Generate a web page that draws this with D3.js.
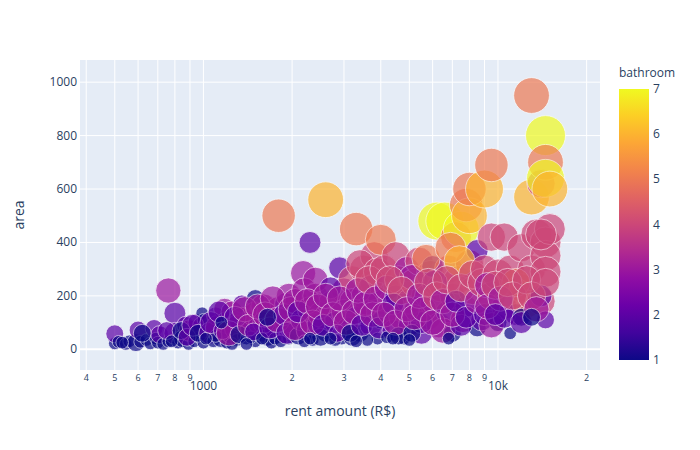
<!DOCTYPE html>
<html lang="en">
<head>
<meta charset="UTF-8">
<title>rent vs area</title>
<style>
  body { margin: 0; background: #fff; }
  svg { font-family: "Open Sans", verdana, arial, sans-serif; }
</style>
</head>
<body>
<svg width="700" height="450"></svg>
<script src="https://d3js.org/d3.v7.min.js"></script>
<script>
// values
const rent = [
  500, 500, 515, 545, 560, 590, 600, 610, 640, 660, 680, 690, 700, 710, 730, 760, 760, 800, 800, 820,
  850, 870, 890, 900, 930, 950, 970, 990, 1000, 1000, 1000,
  530, 620, 750, 780, 840, 880, 920, 960,
  1050, 1080, 1100, 1120, 1150, 1180, 1200, 1200, 1250, 1250, 1300, 1300, 1350, 1350, 1400, 1450, 1500, 1500, 1500, 1550,
  1600, 1600, 1650, 1700, 1700, 1750, 1800, 1800, 1850, 1900, 1900, 1950, 2000, 2000, 1100, 1250, 1450, 1600, 1750, 1950,
  1020, 1060, 1130, 1160, 1220, 1280, 1320, 1380, 1420, 1480, 1530, 1580, 1620, 1680, 1720, 1780, 1830, 1880, 1920, 1980,
  1150, 1400, 1650,
  2050, 2180, 2300, 2100, 2150, 2200, 2250, 2300, 2350, 2400, 2450, 2500, 2600, 2600, 2700, 2800, 2900, 2950, 3000, 3000,
  3100, 3200, 3200, 3300, 3300, 3400, 3500, 3500, 3600, 3700, 3800, 3800, 3900, 4000, 4000, 4000, 2200, 2500, 2800, 3200,
  3600, 2400, 2700, 3400, 3700, 3900,
  2050, 2100, 2250, 2350, 2450, 2550, 2600, 2750, 2850, 2900, 3050, 3150, 3250, 3350, 3450, 3550, 3650, 3750, 3850, 3950,
  2300, 2700, 3300,
  4100, 4200, 4300, 4400, 4500, 4500, 4600, 4700, 4800, 4900, 5000, 5000, 5200, 5300, 5400, 5500, 5600, 5800, 5900, 6000,
  6000, 6200, 6300, 6400, 6600, 6700, 6800, 7000, 7000, 7200, 7300, 7500, 7600, 7800, 7800, 8000, 8000, 8000, 8200, 8500,
  8500, 4200, 4600, 5500, 6500, 7500, 8800, 4400, 5100, 5700, 6900, 7400, 6100,
  4100, 4300, 4500, 4700, 4900, 5100, 5200, 5400, 5600, 5800, 6000, 6200, 6500, 6700, 7000, 7200, 7500, 7800, 8200, 8500,
  8800, 4400, 5000, 6800,
  9000, 9000, 9000, 9500, 9500, 9500, 10000, 10000, 10500, 10500, 11000, 11000, 11500, 12000, 12000, 12500, 13000, 13000, 13000, 13500,
  14000, 14000, 14500, 14500, 14500, 14500, 14500, 14500, 14500, 14000, 15000, 15000, 9500, 10500, 12000, 12000, 11500, 9200,
  9200, 9800, 10200, 10800, 11200, 12500, 13000, 13500, 14000, 14500, 9800, 13000
];
const area = [
  22, 58, 28, 20, 30, 25, 72, 28, 35, 22, 78, 40, 25, 55, 20, 30, 220, 135, 60, 25,
  40, 90, 20, 70, 30, 100, 45, 135, 25, 85, 110,
  25, 60, 70, 30, 70, 45, 90, 60,
  60, 30, 125, 80, 40, 150, 100, 25, 60, 140, 80, 35, 170, 110, 50, 75, 190, 130, 30, 95,
  60, 160, 45, 120, 25, 80, 150, 500, 55, 100, 170, 40, 130, 75, 50, 20, 45, 100, 40, 200,
  40, 100, 140, 70, 60, 120, 55, 150, 90, 65, 160, 40, 130, 80, 190, 110, 30, 130, 60, 150,
  100, 20, 120,
  180, 285, 400, 50, 110, 220, 70, 150, 35, 200, 95, 130, 560, 60, 170, 100, 305, 40, 220, 140,
  80, 260, 180, 450, 120, 60, 300, 200, 150, 90, 250, 350, 40, 410, 180, 110, 30, 45, 35, 45,
  35, 260, 230, 320, 230, 290,
  80, 140, 180, 100, 160, 90, 200, 130, 60, 190, 100, 60, 140, 220, 90, 170, 260, 130, 190, 80,
  40, 40, 30,
  300, 230, 140, 70, 350, 200, 260, 120, 40, 300, 180, 90, 250, 150, 330, 60, 200, 120, 280, 310,
  170, 480, 90, 230, 480, 140, 300, 200, 60, 420, 260, 450, 110, 160, 540, 500, 600, 320, 220, 80,
  370, 45, 50, 100, 70, 90, 110, 170, 270, 340, 380, 330, 250,
  130, 260, 100, 220, 150, 60, 120, 200, 150, 250, 100, 200, 180, 260, 130, 180, 230, 120, 280, 180,
  250, 40, 35, 40,
  600, 300, 130, 690, 420, 200, 280, 100, 420, 160, 60, 300, 130, 230, 380, 170, 950, 570, 300, 430,
  620, 180, 800, 700, 640, 400, 350, 290, 110, 200, 600, 450, 90, 120, 120, 100, 250, 240,
  160, 240, 190, 250, 200, 260, 200, 150, 430, 250, 130, 120
];
const bathroom = [
  1, 2, 1, 1, 1, 1, 2, 1, 1, 1, 2, 1, 1, 2, 1, 1, 3, 2, 2, 1,
  1, 2, 1, 3, 1, 2, 1, 1, 1, 2, 1,
  1, 1, 2, 1, 1, 2, 2, 1,
  2, 1, 2, 3, 1, 3, 2, 1, 2, 3, 3, 1, 2, 3, 1, 2, 1, 3, 1, 2,
  2, 3, 1, 3, 1, 2, 3, 5, 2, 3, 2, 1, 3, 2, 1, 1, 1, 2, 1, 3,
  1, 2, 2, 2, 3, 2, 1, 3, 3, 2, 3, 1, 3, 2, 3, 3, 1, 2, 2, 3,
  1, 1, 1,
  3, 3, 2, 1, 2, 3, 2, 3, 1, 3, 2, 3, 6, 1, 3, 2, 2, 1, 3, 3,
  2, 4, 3, 5, 2, 1, 4, 3, 3, 2, 4, 4, 1, 5, 3, 1, 1, 1, 1, 1,
  1, 3, 2, 4, 3, 4,
  3, 2, 3, 3, 3, 2, 3, 3, 2, 3, 3, 1, 3, 3, 2, 3, 4, 3, 3, 2,
  1, 1, 1,
  4, 3, 3, 2, 4, 2, 4, 3, 1, 3, 3, 2, 4, 3, 4, 2, 3, 3, 4, 2,
  3, 7, 3, 4, 7, 2, 4, 3, 1, 5, 4, 7, 3, 2, 5, 6, 5, 4, 4, 1,
  2, 1, 1, 2, 3, 2, 2, 2, 3, 5, 5, 6, 3,
  3, 4, 3, 4, 3, 1, 3, 3, 3, 4, 3, 4, 3, 4, 3, 2, 4, 2, 4, 3,
  4, 1, 1, 1,
  6, 4, 2, 5, 4, 4, 4, 1, 4, 3, 1, 4, 2, 4, 4, 5, 5, 6, 4, 4,
  4, 4, 7, 5, 7, 4, 4, 4, 2, 2, 6, 4, 3, 2, 1, 2, 5, 3,
  3, 4, 3, 4, 4, 4, 4, 3, 4, 4, 2, 1
];
const rooms = [
  1, 2, 1, 1, 1, 2, 2, 1, 1, 1, 2, 1, 1, 2, 1, 1, 4, 3, 3, 1,
  2, 2, 1, 3, 1, 2, 1, 1, 1, 3, 1,
  1, 2, 2, 1, 2, 2, 3, 2,
  3, 1, 2, 4, 2, 3, 3, 1, 3, 3, 4, 1, 2, 4, 2, 3, 2, 4, 1, 3,
  2, 4, 2, 4, 1, 3, 4, 7, 2, 3, 3, 1, 4, 3, 1, 1, 1, 3, 1, 4,
  1, 3, 3, 2, 4, 3, 2, 4, 3, 2, 4, 1, 4, 3, 4, 4, 1, 3, 3, 4,
  1, 1, 2,
  4, 4, 3, 2, 3, 4, 3, 4, 1, 4, 3, 4, 8, 2, 4, 3, 3, 1, 4, 4,
  3, 5, 4, 7, 3, 2, 5, 4, 4, 3, 5, 5, 1, 6, 4, 2, 1, 2, 1, 2,
  1, 4, 3, 5, 4, 5,
  4, 3, 4, 4, 4, 3, 4, 4, 2, 4, 4, 2, 4, 4, 3, 4, 5, 4, 4, 3,
  1, 1, 1,
  5, 4, 4, 3, 5, 3, 5, 4, 1, 4, 4, 3, 5, 4, 5, 3, 4, 4, 5, 3,
  4, 9, 4, 5, 9, 3, 5, 4, 2, 6, 5, 8, 4, 3, 7, 8, 7, 5, 5, 2,
  3, 1, 2, 3, 4, 3, 3, 3, 4, 5, 6, 6, 4,
  4, 5, 4, 5, 4, 2, 4, 4, 4, 5, 4, 5, 4, 5, 4, 3, 5, 3, 5, 4,
  5, 1, 1, 1,
  9, 5, 3, 7, 5, 5, 6, 2, 5, 4, 1, 5, 3, 5, 5, 5, 8, 8, 5, 6,
  5, 5, 10, 8, 9, 6, 6, 6, 2, 3, 8, 6, 4, 3, 2, 3, 5, 4,
  4, 5, 4, 5, 5, 5, 5, 4, 6, 5, 3, 2
];
const xTicks = [400, 500, 600, 700, 800, 900, 1000, 2000, 3000, 4000, 5000, 6000, 7000, 8000, 9000, 10000, 20000];
const xMajor = { 1000: "1000", 10000: "10k" };
const yTicks = [0, 200, 400, 600, 800, 1000];
const barTicks = [1, 2, 3, 4, 5, 6, 7];

const svg = d3.select("svg");
const plot = { left: 80, right: 600, top: 60, bottom: 370 };
const ink = "#2a3f5f";

const x = d3.scaleLog().domain([381, 22200]).range([plot.left, plot.right]);
const y = d3.scaleLinear().domain([-77.5, 1083]).range([plot.bottom, plot.top]);
const r = d3.scaleSqrt().domain([0, 10]).range([0, 20]);
const color = d3.scaleSequential(d3.interpolatePlasma).domain([1, 7]);

// plot background and grid
svg.append("rect")
  .attr("x", plot.left).attr("y", plot.top)
  .attr("width", plot.right - plot.left).attr("height", plot.bottom - plot.top)
  .attr("fill", "#e5ecf6");

svg.append("g").selectAll("line").data(xTicks).join("line")
  .attr("x1", d => x(d)).attr("x2", d => x(d))
  .attr("y1", plot.top).attr("y2", plot.bottom)
  .attr("stroke", "#fff").attr("stroke-width", 1);

svg.append("g").selectAll("line").data(yTicks).join("line")
  .attr("x1", plot.left).attr("x2", plot.right)
  .attr("y1", d => y(d)).attr("y2", d => y(d))
  .attr("stroke", "#fff").attr("stroke-width", d => d === 0 ? 2 : 1);

// bubbles
svg.append("clipPath").attr("id", "clip").append("rect")
  .attr("x", plot.left).attr("y", plot.top)
  .attr("width", plot.right - plot.left).attr("height", plot.bottom - plot.top);

svg.append("g").attr("clip-path", "url(#clip)")
  .selectAll("circle").data(d3.range(rent.length)).join("circle")
  .attr("cx", i => x(rent[i]))
  .attr("cy", i => y(area[i]))
  .attr("r", i => r(rooms[i]))
  .attr("fill", i => color(bathroom[i]))
  .attr("opacity", 0.7)
  .attr("stroke", "#fff")
  .attr("stroke-width", 0.8);

// x axis labels
svg.append("g").selectAll("text").data(xTicks).join("text")
  .attr("x", d => x(d))
  .attr("y", d => xMajor[d] ? 390 : 381)
  .attr("text-anchor", "middle")
  .attr("font-size", d => xMajor[d] ? 12 : 9)
  .attr("fill", ink)
  .text(d => xMajor[d] || String(d).replace(/0+$/, ""));

// y axis labels
svg.append("g").selectAll("text").data(yTicks).join("text")
  .attr("x", 77)
  .attr("y", d => y(d) + 4)
  .attr("text-anchor", "end")
  .attr("font-size", 12)
  .attr("fill", ink)
  .text(d => d);

svg.append("text")
  .attr("x", 340).attr("y", 416)
  .attr("text-anchor", "middle")
  .attr("font-size", 14).attr("fill", ink)
  .text("rent amount (R$)");

svg.append("text")
  .attr("transform", "translate(24,215) rotate(-90)")
  .attr("text-anchor", "middle")
  .attr("font-size", 14).attr("fill", ink)
  .text("area");

// colorbar
const bar = { x: 619, w: 30, top: 89, bottom: 360 };
const grad = svg.append("defs").append("linearGradient")
  .attr("id", "plasma").attr("x1", 0).attr("y1", 1).attr("x2", 0).attr("y2", 0);
grad.selectAll("stop").data(d3.range(0, 1.01, 0.1)).join("stop")
  .attr("offset", d => d)
  .attr("stop-color", d => d3.interpolatePlasma(d));

svg.append("rect")
  .attr("x", bar.x).attr("y", bar.top)
  .attr("width", bar.w).attr("height", bar.bottom - bar.top)
  .attr("fill", "url(#plasma)");

const yBar = d3.scaleLinear().domain([1, 7]).range([bar.bottom, bar.top]);
svg.append("g").selectAll("text").data(barTicks).join("text")
  .attr("x", bar.x + bar.w + 4)
  .attr("y", d => yBar(d) + 4)
  .attr("font-size", 12).attr("fill", ink)
  .text(d => d);

svg.append("text")
  .attr("x", bar.x).attr("y", 77)
  .attr("font-size", 12).attr("fill", ink)
  .text("bathroom");
</script>
</body>
</html>
